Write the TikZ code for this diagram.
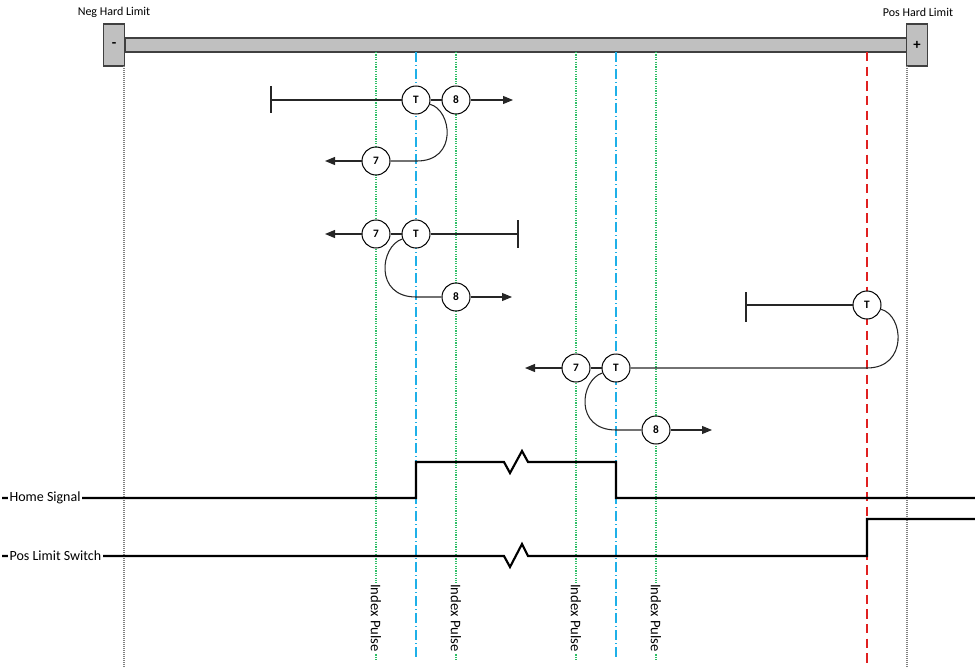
\documentclass[tikz,border=0pt]{standalone}
\usepackage{fontspec}
\setmainfont{Carlito}
\usetikzlibrary{arrows.meta}
\definecolor{barfill}{HTML}{C0C0C0}
\definecolor{bardraw}{HTML}{404040}
\definecolor{idxgreen}{HTML}{2EBF66}
\definecolor{homeblue}{HTML}{1FB0E8}
\definecolor{limred}{HTML}{E02020}
\begin{document}
\begin{tikzpicture}[x=0.75pt,y=-0.75pt,
  evt/.style={circle,draw=black,line width=0.75pt,fill=white,minimum size=21pt,inner sep=0pt,font=\fontsize{8.5}{9}\selectfont\bfseries},
  motion/.style={draw=black!85,line width=0.8pt},
  arr/.style={motion,-{Triangle[length=7.5pt,width=6pt]}},
  stopmark/.style={draw=black!85,line width=0.9pt},
  sig/.style={draw=black,line width=1.6pt,line join=miter},
  idx/.style={draw=idxgreen,line width=1pt,dash pattern=on 0.9pt off 0.9pt},
  homeln/.style={draw=homeblue,line width=1.1pt,dash pattern=on 7.5pt off 2.25pt on 0.75pt off 2.25pt},
  limln/.style={draw=limred,line width=1.1pt,dash pattern=on 7pt off 4pt},
  hardln/.style={draw=gray,line width=0.9pt,dash pattern=on 0.75pt off 0.75pt},
  lbl/.style={font=\fontsize{10.5}{12}\selectfont,fill=white,inner sep=1pt},
  idxlbl/.style={font=\fontsize{11}{12}\selectfont,fill=white,inner sep=1pt,rotate=-90},
  endbox/.style={draw=bardraw,fill=barfill,line width=1pt,minimum width=15.75pt,minimum height=31.5pt,inner sep=0pt,font=\fontsize{11}{12}\selectfont\bfseries}
]
\useasboundingbox (0,0) rectangle (975,667);

% top bar
\node[font=\fontsize{9}{10}\selectfont] (nl) at (114,12) {Neg Hard Limit};
\node[font=\fontsize{9}{10}\selectfont] (pl) at (918,12) {Pos Hard Limit};
\draw[fill=barfill,draw=bardraw,line width=1pt] (125,38) rectangle (907,52);
\node[endbox] (neg) at (114,45) {-};
\node[endbox] (pos) at (917,45) {+};

% vertical reference lines
\draw[hardln] (124,66) -- (124,667);
\draw[hardln] (907,66) -- (907,667);
\foreach \x in {376,456,576,656}{
  \draw[idx] (\x,52) -- (\x,660);
  \node[idxlbl] at (\x,618) {Index Pulse};
}
\draw[homeln] (416,52) -- (416,660);
\draw[homeln] (616,52) -- (616,660);
\draw[limln] (867,52) -- (867,667);

% signals
\draw[sig] (2,498) -- (416,498) -- (416,462) -- (504,462) -- (510,473) -- (522,451) -- (528,462) -- (616,462) -- (616,498) -- (975,498);
\node[lbl,anchor=west] (hs) at (8,498) {Home Signal};
\draw[sig] (2,556) -- (504,556) -- (510,567) -- (522,544) -- (528,556) -- (867,556) -- (867,519) -- (975,519);
\node[lbl,anchor=west] (ls) at (8,556) {Pos Limit Switch};

% row 1
\node[evt] (t1) at (416,100) {T};
\node[evt] (e81) at (456,100) {8};
\node[evt] (e71) at (376,161) {7};
\coordinate (s1) at (271,100);
\coordinate (a81) at (513,100);
\coordinate (a71) at (325,161);
\draw[stopmark] (271,86) -- (271,113);
\draw[motion] (s1) -- (t1);
\draw[motion] (t1) -- (e81);
\draw[arr] (e81) -- (a81);
\draw[motion] (t1.-17) .. controls (452,110) and (458,161) .. (417,161) -- (e71);
\draw[arr] (e71) -- (a71);

% row 2
\node[evt] (t2) at (416,234) {T};
\node[evt] (e72) at (376,234) {7};
\node[evt] (e82) at (456,297) {8};
\coordinate (s2) at (518,234);
\coordinate (a72) at (325,234);
\coordinate (a82) at (512,297);
\draw[stopmark] (518,220) -- (518,248);
\draw[motion] (t2) -- (s2);
\draw[motion] (t2) -- (e72);
\draw[arr] (e72) -- (a72);
\draw[motion] (t2.-160) .. controls (380,246) and (374,297) .. (416,297) -- (e82);
\draw[arr] (e82) -- (a82);

% row 3
\node[evt] (t3a) at (867,305) {T};
\node[evt] (t3b) at (616,368) {T};
\node[evt] (e73) at (576,368) {7};
\node[evt] (e83) at (656,430) {8};
\coordinate (s3) at (746,305);
\coordinate (a73) at (525,368);
\coordinate (a83) at (712,430);
\draw[stopmark] (746,292) -- (746,322);
\draw[motion] (s3) -- (t3a);
\draw[motion] (t3a.-17) .. controls (904,315) and (908,368) .. (867,368) -- (t3b);
\draw[motion] (t3b) -- (e73);
\draw[arr] (e73) -- (a73);
\draw[motion] (t3b.-160) .. controls (580,380) and (574,430) .. (616,430) -- (e83);
\draw[arr] (e83) -- (a83);
\end{tikzpicture}
\end{document}
